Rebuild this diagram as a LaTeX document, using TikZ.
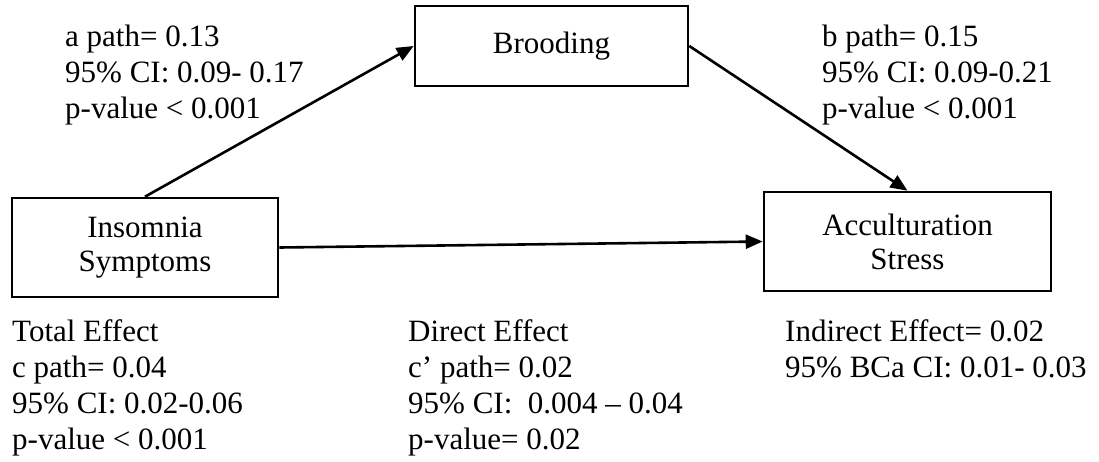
\documentclass[tikz,border=0pt]{standalone}
\usepackage{fontspec}
\setmainfont{Liberation Serif}
\usetikzlibrary{arrows.meta}
\tikzset{
  varbox/.style={draw, line width=2.6pt, align=center, inner sep=0pt,
    font=\fontsize{31}{34}\selectfont},
  stat/.style={anchor=base west, align=left, inner sep=0pt,
    font=\fontsize{31}{36}\selectfont},
  conn/.style={line width=2.6pt, -{Triangle[length=17pt,width=14pt]}}
}
\begin{document}
\begin{tikzpicture}[x=1pt,y=-1pt]
\useasboundingbox (0,0) rectangle (1099,461);
\node[varbox, minimum width=273pt, minimum height=80pt] (brood) at (551.5,46) {Brooding};
\node[varbox, minimum width=266pt, minimum height=99pt] (ins) at (145,247.5) {Insomnia\\Symptoms};
\node[varbox, minimum width=287pt, minimum height=99pt] (acc) at (907.5,241.5) {Acculturation\\Stress};
\draw[conn] (ins.north) -- (brood.west);
\draw[conn] (brood.east) -- (acc.north);
\draw[conn] (ins.east) -- (acc.west);
\node[stat] (apath) at (65,118) {a path= 0.13\\95\% CI: 0.09- 0.17\\p-value < 0.001};
\node[stat] (bpath) at (822,118) {b path= 0.15\\95\% CI: 0.09-0.21\\p-value < 0.001};
\node[stat] (total) at (12,449) {Total Effect\\c path= 0.04\\95\% CI: 0.02-0.06\\p-value < 0.001};
\node[stat] (direct) at (408,449) {Direct Effect\\c’ path= 0.02\\95\% CI:\ \ 0.004 – 0.04\\p-value= 0.02};
\node[stat] (indirect) at (785,377) {Indirect Effect= 0.02\\95\% BCa CI: 0.01- 0.03};
\end{tikzpicture}
\end{document}
